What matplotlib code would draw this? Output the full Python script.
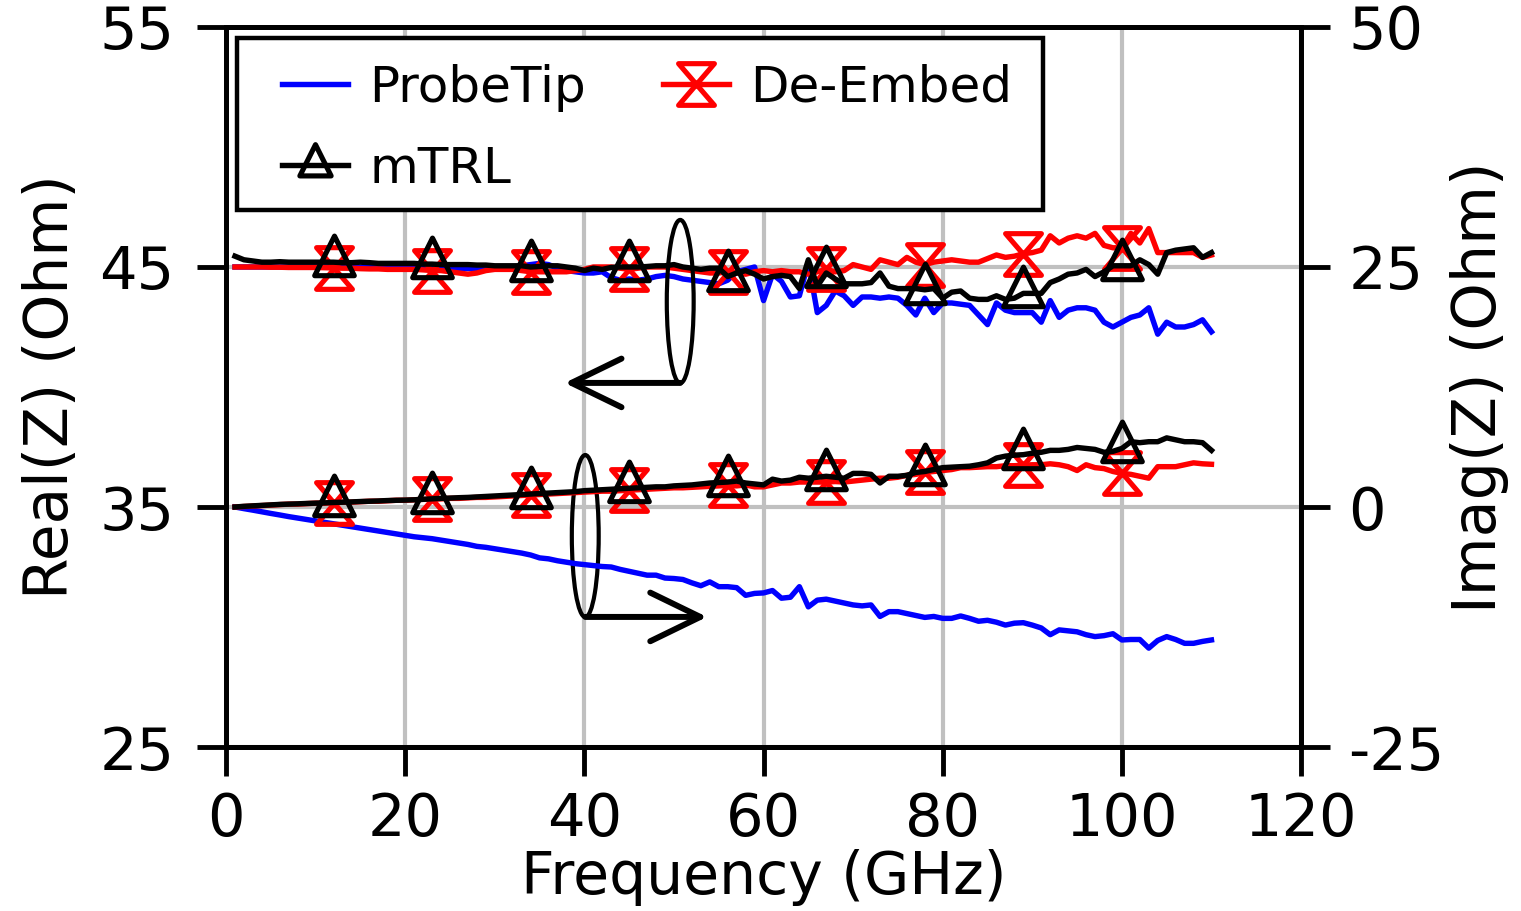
import numpy as np
import matplotlib
matplotlib.use('Agg')
import matplotlib.pyplot as plt
from matplotlib.path import Path
from matplotlib.patches import Ellipse, Rectangle
from matplotlib.lines import Line2D

# frequency points (GHz)
freq = np.arange(1, 111)

# Real(Z), Ohm
real_probe = [
    45.0, 45.0, 45.0, 45.0, 45.0, 45.0, 45.0, 45.0, 45.0, 45.0,
    45.0, 45.0, 45.0, 44.98, 44.98, 44.98, 44.97, 44.97, 44.97, 44.96,
    44.96, 44.95, 44.95, 44.95, 44.94, 44.93, 44.93, 44.93, 44.92, 44.92,
    44.95, 45.0, 45.05, 45.1, 45.15, 45.1, 44.95, 44.85, 44.8, 44.75,
    44.75, 44.8, 44.55, 44.45, 44.5, 44.45, 44.5, 44.6, 44.65, 44.6,
    44.5, 44.45, 44.4, 44.35, 44.3, 44.45, 44.8, 44.9, 45.0, 43.6,
    44.7, 44.4, 43.75, 43.8, 45.2, 43.1, 43.4, 44.0, 43.8, 43.4,
    43.75, 43.75, 43.7, 43.75, 43.7, 43.4, 43.0, 43.7, 43.1, 43.5,
    43.5, 43.45, 43.4, 43.0, 42.6, 43.5, 43.2, 43.1, 43.1, 43.1,
    42.7, 43.6, 42.9, 43.2, 43.3, 43.3, 43.2, 42.7, 42.5, 42.7,
    42.9, 43.0, 43.3, 42.2, 42.7, 42.5, 42.5, 42.6, 42.8, 42.3]
real_deembed = [
    45.0, 45.0, 45.0, 45.0, 44.99, 44.99, 44.98, 44.98, 44.98, 44.98,
    44.97, 44.96, 44.95, 44.95, 44.93, 44.92, 44.92, 44.9, 44.9, 44.9,
    44.9, 44.88, 44.85, 44.85, 44.8, 44.75, 44.7, 44.75, 44.85, 44.9,
    44.9, 44.9, 44.85, 44.8, 44.8, 44.8, 44.8, 44.8, 44.85, 44.9,
    45.0, 45.0, 45.0, 44.95, 44.9, 44.95, 45.0, 45.0, 45.0, 44.95,
    44.9, 44.85, 44.8, 44.75, 44.75, 44.8, 44.75, 44.7, 44.8, 44.85,
    44.8, 44.85, 44.8, 44.8, 44.7, 44.8, 44.9, 44.8, 44.85, 45.1,
    45.0, 44.9, 45.3, 45.2, 45.1, 45.4, 45.2, 45.1, 45.2, 45.25,
    45.3, 45.25, 45.2, 45.2, 45.35, 45.5, 45.4, 45.45, 45.55, 45.6,
    45.7, 46.3, 46.0, 46.2, 46.3, 46.2, 46.4, 45.9, 45.8, 45.8,
    46.4, 46.0, 46.6, 45.6, 45.6, 45.6, 45.6, 45.6, 45.4, 45.5]
real_mtrl = [
    45.45, 45.3, 45.25, 45.2, 45.2, 45.22, 45.2, 45.2, 45.2, 45.2,
    45.2, 45.2, 45.18, 45.18, 45.2, 45.18, 45.15, 45.15, 45.15, 45.15,
    45.15, 45.12, 45.12, 45.1, 45.1, 45.1, 45.1, 45.08, 45.08, 45.05,
    45.05, 45.05, 45.05, 45.0, 45.02, 45.05, 45.05, 45.0, 44.95, 44.85,
    44.95, 44.9, 44.98, 45.0, 45.0, 45.0, 45.02, 45.05, 45.05, 45.1,
    45.0, 44.95, 44.9, 44.95, 44.95, 44.6, 44.75, 44.85, 44.7, 44.5,
    44.6, 44.65, 44.6, 44.1, 45.3, 44.2, 44.75, 44.5, 44.3, 44.3,
    44.3, 44.35, 44.75, 44.2, 44.1, 44.1, 44.1, 44.05, 44.1, 43.7,
    43.95, 44.0, 43.7, 43.65, 43.65, 43.8, 43.65, 43.7, 43.9, 43.9,
    43.9, 44.35, 44.5, 44.7, 44.75, 44.9, 44.6, 44.8, 45.05, 45.05,
    45.05, 45.3, 45.1, 44.7, 45.6, 45.7, 45.75, 45.8, 45.4, 45.6]

# Imag(Z), Ohm
imag_probe = [
    0.0, -0.17, -0.33, -0.5, -0.67, -0.83, -1.0, -1.15, -1.3, -1.45,
    -1.6, -1.75, -1.9, -2.05, -2.2, -2.35, -2.5, -2.65, -2.8, -2.95,
    -3.1, -3.2, -3.3, -3.45, -3.6, -3.75, -3.9, -4.1, -4.2, -4.35,
    -4.5, -4.65, -4.8, -5.0, -5.3, -5.4, -5.6, -5.75, -5.9, -6.0,
    -6.1, -6.2, -6.25, -6.5, -6.7, -6.9, -7.1, -7.1, -7.4, -7.45,
    -7.55, -7.9, -8.2, -7.8, -8.3, -8.3, -8.4, -9.2, -9.0, -8.95,
    -8.7, -9.5, -9.4, -8.3, -10.4, -9.7, -9.6, -9.8, -10.0, -10.2,
    -10.3, -10.2, -11.4, -10.9, -10.9, -11.1, -11.3, -11.5, -11.4, -11.6,
    -11.6, -11.35, -11.6, -11.9, -11.8, -12.0, -12.3, -12.1, -12.05, -12.3,
    -12.6, -13.3, -12.8, -12.9, -13.0, -13.3, -13.5, -13.4, -13.2, -13.85,
    -13.8, -13.8, -14.7, -13.9, -13.5, -13.8, -14.2, -14.2, -14.0, -13.85]
imag_deembed = [
    0.0, 0.05, 0.1, 0.15, 0.2, 0.25, 0.3, 0.3, 0.35, 0.4,
    0.4, 0.45, 0.5, 0.5, 0.55, 0.6, 0.6, 0.65, 0.7, 0.7,
    0.75, 0.8, 0.8, 0.85, 0.9, 0.9, 0.95, 1.0, 1.0, 1.05,
    1.1, 1.15, 1.2, 1.25, 1.3, 1.35, 1.4, 1.45, 1.5, 1.55,
    1.6, 1.65, 1.65, 1.7, 1.75, 1.8, 1.85, 1.9, 1.95, 2.0,
    2.0, 2.05, 2.1, 2.15, 2.2, 2.25, 2.2, 2.3, 2.1, 2.1,
    2.3, 2.5, 2.5, 2.6, 2.6, 2.6, 2.6, 2.65, 2.6, 2.7,
    2.8, 2.9, 3.0, 3.0, 3.1, 3.3, 3.4, 3.6, 3.7, 3.8,
    3.9, 4.1, 4.1, 4.15, 4.2, 4.2, 4.3, 4.3, 4.35, 4.4,
    4.4, 4.5, 4.4, 4.2, 3.8, 4.4, 4.1, 4.0, 3.7, 3.5,
    3.4, 3.2, 3.0, 4.2, 4.2, 4.2, 4.4, 4.6, 4.5, 4.45]
imag_mtrl = [
    0.0, 0.07, 0.12, 0.17, 0.22, 0.27, 0.3, 0.33, 0.37, 0.4,
    0.43, 0.47, 0.5, 0.53, 0.57, 0.6, 0.63, 0.67, 0.7, 0.72,
    0.75, 0.8, 0.85, 0.9, 0.93, 0.97, 1.0, 1.05, 1.1, 1.15,
    1.2, 1.25, 1.3, 1.35, 1.4, 1.45, 1.5, 1.55, 1.6, 1.7,
    1.75, 1.8, 1.85, 1.9, 1.95, 2.0, 2.05, 2.1, 2.1, 2.2,
    2.25, 2.3, 2.4, 2.5, 2.55, 2.6, 2.7, 2.5, 2.4, 2.3,
    2.9, 2.7, 2.8, 3.1, 3.0, 3.1, 3.2, 3.1, 3.0, 3.5,
    3.5, 3.4, 2.5, 3.2, 3.2, 3.3, 3.6, 3.7, 3.9, 4.1,
    4.15, 4.2, 4.25, 4.4, 4.6, 5.1, 5.3, 5.4, 5.45, 5.6,
    5.7, 5.9, 5.9, 6.0, 6.2, 6.1, 6.0, 5.7, 5.8, 6.1,
    6.8, 6.7, 6.8, 6.8, 7.2, 7.0, 6.8, 6.8, 6.7, 5.9]

labels = ['ProbeTip', 'De-Embed', 'mTRL']

# hollow markers: hourglass and triangle centred on its centroid
hourglass = Path([(-0.86, 1), (0.86, 1), (-0.86, -1), (0.86, -1), (-0.86, 1)],
                 [Path.MOVETO, Path.LINETO, Path.LINETO, Path.LINETO, Path.CLOSEPOLY])
triangle = Path([(0, 1), (-0.75, -0.5), (0.75, -0.5), (0, 1)],
                [Path.MOVETO, Path.LINETO, Path.LINETO, Path.CLOSEPOLY])

plt.rcParams['font.family'] = 'DejaVu Sans'
plt.rcParams['axes.unicode_minus'] = False

fig = plt.figure(figsize=(15.21, 9.11), dpi=100)
ax = fig.add_axes([0.1486, 0.18, 0.7068, 0.7904])
ax2 = ax.twinx()

lw = 3.9
mk = dict(markevery=(11, 11), markerfacecolor='none', markeredgewidth=3.7)

ax.plot(freq, real_probe, color='#0000ff', lw=lw)
ax.plot(freq, real_deembed, color='#ff0000', lw=lw, marker=hourglass, markersize=30,
        markeredgecolor='#ff0000', **mk)
ax.plot(freq, real_mtrl, color='black', lw=lw, marker=triangle, markersize=38,
        markeredgecolor='black', **mk)

ax2.plot(freq, imag_probe, color='#0000ff', lw=lw)
ax2.plot(freq, imag_deembed, color='#ff0000', lw=lw, marker=hourglass, markersize=30,
         markeredgecolor='#ff0000', **mk)
ax2.plot(freq, imag_mtrl, color='black', lw=lw, marker=triangle, markersize=38,
         markeredgecolor='black', **mk)

ax.set_xlim(0, 120)
ax.set_ylim(25, 55)
ax2.set_ylim(-25, 50)
ax.set_xticks(np.arange(0, 121, 20))
ax.set_yticks([25, 35, 45, 55])
ax2.set_yticks([-25, 0, 25, 50])

ax.grid(True, color='#c0c0c0', lw=3)
ax.set_axisbelow(True)

for a in (ax, ax2):
    for s in a.spines.values():
        s.set_linewidth(3.5)
ax.tick_params(axis='both', direction='out', length=21, width=3.5, labelsize=42.5)
ax.tick_params(axis='y', pad=16)
ax.tick_params(axis='x', pad=11)
ax2.tick_params(axis='y', direction='out', length=21, width=3.5, labelsize=42.5, pad=13)

ax.set_xlabel('Frequency (GHz)', fontsize=42)
ax.set_ylabel('Real(Z) (Ohm)', fontsize=43)
ax2.set_ylabel('Imag(Z) (Ohm)', fontsize=43.5)
ax.xaxis.set_label_coords(0.5, -0.142)
ax.yaxis.set_label_coords(-0.135, 0.5)
ax2.yaxis.set_label_coords(1.139, 0.5)

# ellipses with arrows pointing at the relevant axis
ax.add_patch(Ellipse((50.7, 43.56), 3.0, 6.8, fill=False, ec='black', lw=3, zorder=5))
ax.add_patch(Ellipse((40.1, 33.79), 3.0, 6.75, fill=False, ec='black', lw=3, zorder=5))
arrow = dict(arrowstyle='->,head_length=36,head_width=17.5', mutation_scale=1,
             lw=4.3, color='black', shrinkA=0, shrinkB=0, capstyle='round')
ax.annotate('', xy=(37.8, 40.17), xytext=(50.7, 40.17), arrowprops=arrow, zorder=5)
ax.annotate('', xy=(53.7, 30.42), xytext=(40.1, 30.42), arrowprops=arrow, zorder=5)

# legend: square black frame drawn separately
ax2.add_patch(Rectangle((0.0102, 0.7458), 0.7498, 0.2389, transform=ax2.transAxes,
                        facecolor='white', edgecolor='black', lw=3.2, zorder=4))
leg_h = [Line2D([], [], color='#0000ff', lw=lw),
         Line2D([], [], color='black', lw=lw, marker=triangle, markersize=30,
                markerfacecolor='none', markeredgecolor='black', markeredgewidth=3.7),
         Line2D([], [], color='#ff0000', lw=lw, marker=hourglass, markersize=30,
                markerfacecolor='none', markeredgecolor='#ff0000', markeredgewidth=3.7)]
leg = ax2.legend(leg_h, [labels[0], labels[2], labels[1]], ncol=2,
                 loc='upper left', bbox_to_anchor=(0.0521, 0.9486), borderaxespad=0,
                 fontsize=36, handlelength=1.32, handletextpad=0.42,
                 columnspacing=1.54, borderpad=0, labelspacing=0.66,
                 frameon=False)
leg.set_zorder(6)

fig.savefig('out.png', dpi=100)
